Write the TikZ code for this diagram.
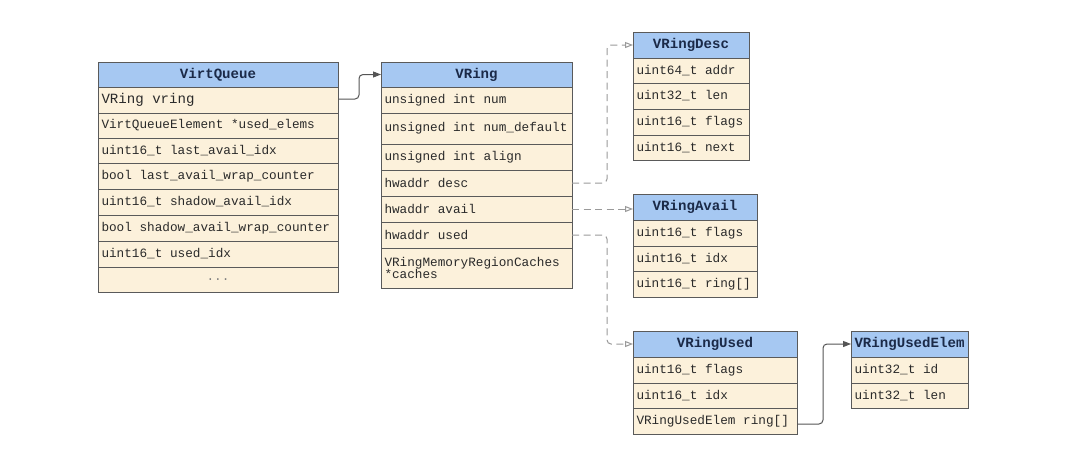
\documentclass[tikz,border=0pt]{standalone}
\usepackage{fontspec}
\newfontfamily\codefont{Liberation Mono}
\usetikzlibrary{arrows.meta}
\definecolor{hblue}{HTML}{A6C8F2}
\definecolor{cream}{HTML}{FCF1DB}
\definecolor{bord}{HTML}{5A5A5A}
\definecolor{htext}{HTML}{1B2A48}
\definecolor{rtext}{HTML}{2A2A2A}
\definecolor{dashc}{HTML}{9A9A9A}
\definecolor{solc}{HTML}{555555}
\newcommand\ms{\hbox to 0.6em{}}
\tikzset{
  fldst/.style={draw=bord,line width=0.9pt,fill=cream,anchor=north west,inner xsep=3.5pt,inner ysep=0pt,outer sep=0pt,
    align=left,text=rtext,font=\codefont\fontsize{12.7}{12.5}\selectfont},
  hdrst/.style={draw=bord,line width=0.9pt,fill=hblue,anchor=north west,inner xsep=0pt,inner ysep=0pt,outer sep=0pt,
    align=center,text=htext,font=\codefont\bfseries\fontsize{14.1}{15}\selectfont},
  solidc/.style={draw=solc,line width=1pt,rounded corners=4pt,-{Triangle[length=8pt,width=6pt]}},
  dashcon/.style={draw=dashc,line width=1pt,dash pattern=on 7pt off 4.5pt,rounded corners=4pt,-{Triangle[open,length=8pt,width=6pt]}}
}
\newcommand\fld[7][]{\pgfmathsetmacro\fldtw{#5-7}%
  \node[fldst,minimum width=#5pt,text width=\fldtw pt,minimum height=#6pt,#1] (#2) at (#3,#4) {#7};}
\newcommand\hdr[6]{\node[hdrst,minimum width=#5pt,text width=#5pt,minimum height=#6pt] (#1) at (#3,#4) {#2};}
\begin{document}
\begin{tikzpicture}[x=1pt,y=-1pt]
\useasboundingbox[fill=white] (0,0) rectangle (1073,455);
% VirtQueue
\hdr{vq}{VirtQueue}{98}{62}{240}{25}
\fld[font=\codefont\fontsize{14.1}{15}\selectfont]{vq1}{98}{87}{240}{26}{VRing\ms vring}
\fld{vq2}{98}{113}{240}{25}{VirtQueueElement\ms *used\_elems}
\fld{vq3}{98}{138}{240}{25}{uint16\_t\ms last\_avail\_idx}
\fld{vq4}{98}{163}{240}{26}{bool\ms last\_avail\_wrap\_counter}
\fld{vq5}{98}{189}{240}{26}{uint16\_t\ms shadow\_avail\_idx}
\fld{vq6}{98}{215}{240}{26}{bool\ms shadow\_avail\_wrap\_counter}
\fld{vq7}{98}{241}{240}{26}{uint16\_t\ms used\_idx}
\fld[align=center,text=gray]{vq8}{98}{267}{240}{25}{...}
% VRing
\hdr{vr}{VRing}{381}{62}{191}{25}
\fld{vr1}{381}{87}{191}{26}{unsigned\ms int\ms num}
\fld{vr2}{381}{113}{191}{31}{unsigned\ms int\ms num\_default}
\fld{vr3}{381}{144}{191}{26}{unsigned\ms int\ms align}
\fld{rdesc}{381}{170}{191}{26}{hwaddr\ms desc}
\fld{ravail}{381}{196}{191}{26}{hwaddr\ms avail}
\fld{rused}{381}{222}{191}{26}{hwaddr\ms used}
\fld{vr7}{381}{248}{191}{40}{VRingMemoryRegionCaches\\{*}caches}
% VRingDesc
\hdr{desc}{VRingDesc}{633}{32}{116}{26}
\fld{d1}{633}{58}{116}{25}{uint64\_t\ms addr}
\fld{d2}{633}{83}{116}{26}{uint32\_t\ms len}
\fld{d3}{633}{109}{116}{26}{uint16\_t\ms flags}
\fld{d4}{633}{135}{116}{25}{uint16\_t\ms next}
% VRingAvail
\hdr{avail}{VRingAvail}{633}{194}{124}{26}
\fld{a1}{633}{220}{124}{26}{uint16\_t\ms flags}
\fld{a2}{633}{246}{124}{25}{uint16\_t\ms idx}
\fld{a3}{633}{271}{124}{26}{uint16\_t\ms ring[]}
% VRingUsed
\hdr{used}{VRingUsed}{633}{331}{164}{26}
\fld{u1}{633}{357}{164}{26}{uint16\_t\ms flags}
\fld{u2}{633}{383}{164}{25}{uint16\_t\ms idx}
\fld{uring}{633}{408}{164}{26}{VRingUsedElem\ms ring[]}
% VRingUsedElem
\hdr{ue}{VRingUsedElem}{851}{331}{117}{26}
\fld{e1}{851}{357}{117}{26}{uint32\_t\ms id}
\fld{e2}{851}{383}{117}{25}{uint32\_t\ms len}
% connectors
\draw[solidc] ([yshift=-12pt]vq1.north east) -- ++(21,0) |- (vr.west);
\draw[dashcon] (rdesc.east) -- ++(35,0) |- (desc.west);
\draw[dashcon] (ravail.east) -- (ravail.east -| avail.west);
\draw[dashcon] (rused.east) -- ++(35,0) |- (used.west);
\draw[solidc] ([yshift=-3pt]uring.east) -- ++(26,0) |- (ue.west);
\end{tikzpicture}
\end{document}
